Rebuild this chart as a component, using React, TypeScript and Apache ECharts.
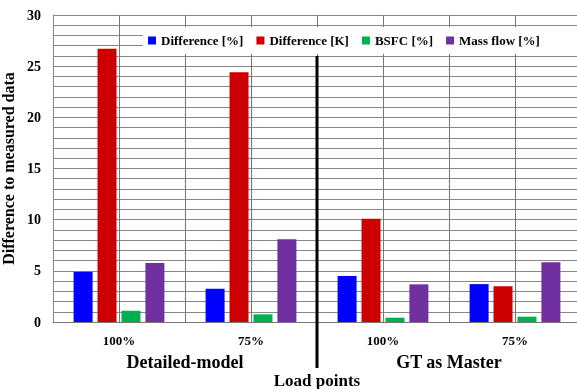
import React, { useEffect, useRef } from "react";
import * as echarts from "echarts";

const loadPoints = ["100%", "75%", "100%", "75%"];
const groups = ["Detailed-model", "GT as Master"];
const gridColumns = ["a", "b", "c", "d", "e", "f", "g", "h"];
const seriesNames = ["Difference [%]", "Difference [K]", "BSFC [%]", "Mass flow [%]"];
const diffPct = [4.9, 3.25, 4.5, 3.7];
const diffK = [26.7, 24.4, 10.1, 3.5];
const bsfc = [1.1, 0.75, 0.42, 0.52];
const massFlow = [5.77, 8.08, 3.68, 5.83];
const colors = ["#0000FF", "#CC0000", "#00B050", "#7030A0"];

const FONT = "Liberation Serif";

export default function App() {
  const ref = useRef<HTMLDivElement>(null);
  useEffect(() => {
    if (!ref.current) return;
    const chart = echarts.init(ref.current, null, { renderer: "svg" });
    const values = [diffPct, diffK, bsfc, massFlow];
    chart.setOption({
      animation: false,
      grid: { left: 53, right: -4, top: 15, bottom: 67, outerBoundsMode: "none", containLabel: false },
      legend: {
        left: 143,
        top: 27,
        width: 500,
        padding: [7, 60, 7, 5],
        backgroundColor: "#ffffff",
        itemWidth: 8,
        itemHeight: 8,
        itemGap: 13,
        icon: "rect",
        textStyle: { fontFamily: FONT, fontWeight: "bold", fontSize: 13, color: "#000" },
        data: seriesNames,
      },
      xAxis: [
        {
          type: "category",
          data: loadPoints,
          axisLine: { lineStyle: { color: "#777", width: 1 } },
          axisTick: { show: false },
          axisLabel: { fontFamily: FONT, fontWeight: "bold", fontSize: 13, color: "#000", margin: 12 },
          splitLine: { show: false },
        },
        {
          type: "category",
          data: gridColumns,
          position: "bottom",
          axisLine: { show: false },
          axisTick: { show: false },
          axisLabel: { show: false },
          splitLine: { show: true, lineStyle: { color: "#777", width: 1 } },
        },
        {
          type: "category",
          data: groups,
          position: "bottom",
          offset: 23,
          axisLine: { show: false },
          axisTick: { show: false },
          axisLabel: { fontFamily: FONT, fontWeight: "bold", fontSize: 18, color: "#000", margin: 8 },
        },
        {
          type: "category",
          data: groups,
          position: "bottom",
          offset: 23,
          axisLine: { show: false },
          axisTick: { show: false },
          axisLabel: { show: false },
          name: "Load points",
          nameLocation: "middle",
          nameGap: 27,
          nameMoveOverlap: false,
          nameTextStyle: { fontFamily: FONT, fontWeight: "bold", fontSize: 17, color: "#000" },
        },
      ],
      yAxis: {
        type: "value",
        min: 0,
        max: 30,
        interval: 5,
        name: "Difference to measured data",
        nameLocation: "middle",
        nameGap: 22,
        nameTextStyle: { fontFamily: FONT, fontWeight: "bold", fontSize: 16, color: "#000" },
        axisLine: { show: true, lineStyle: { color: "#888" } },
        axisTick: { show: false },
        axisLabel: { fontFamily: FONT, fontWeight: "bold", fontSize: 14, color: "#000", margin: 12 },
        splitLine: { show: true, lineStyle: { color: "#888", width: 1 } },
        minorTick: { show: false, splitNumber: 5 },
        minorSplitLine: { show: true, lineStyle: { color: "#888", width: 1 } },
      },
      series: seriesNames.map((name, i) => ({
        name,
        type: "bar",
        xAxisIndex: 0,
        data: values[i],
        barWidth: 19,
        barGap: "26%",
        itemStyle: { color: colors[i] },
      })),
    });
    const p1 = chart.convertToPixel({ xAxisIndex: 0 }, 1) as number;
    const p2 = chart.convertToPixel({ xAxisIndex: 0 }, 2) as number;
    const xSep = (p1 + p2) / 2;
    const yTop = chart.convertToPixel({ yAxisIndex: 0 }, 26) as number;
    const yZero = chart.convertToPixel({ yAxisIndex: 0 }, 0) as number;
    chart.setOption({
      graphic: [
        {
          type: "line",
          z: 100,
          shape: { x1: xSep, y1: yTop, x2: xSep, y2: yZero + 46 },
          style: { stroke: "#000", lineWidth: 3 },
        },
      ],
    });
    return () => chart.dispose();
  }, []);
  return <div ref={ref} style={{ width: 577, height: 389, position: "fixed", left: 0, top: 0 }} />;
}
